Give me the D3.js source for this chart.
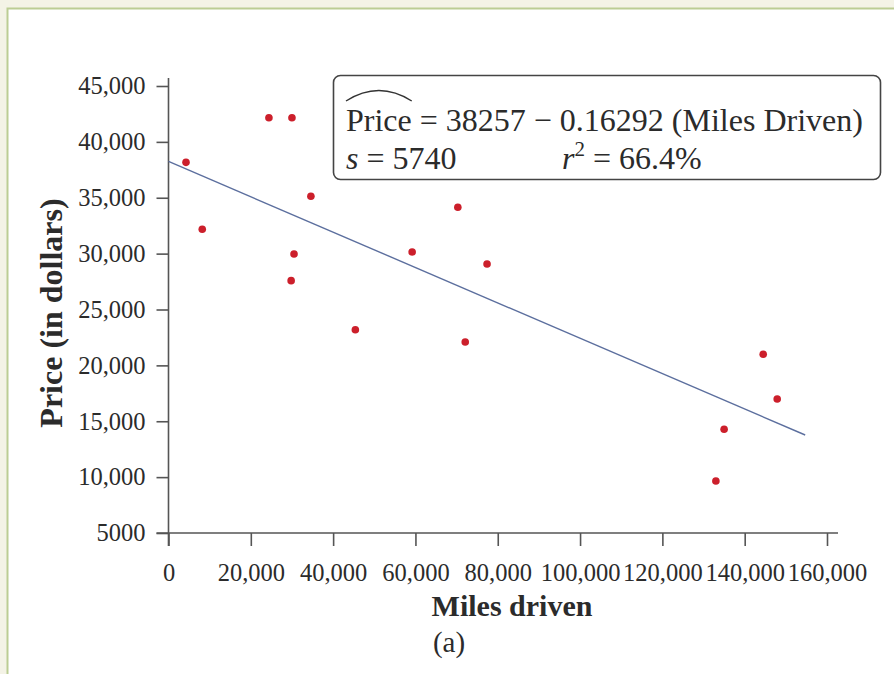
<!DOCTYPE html>
<html>
<head>
<meta charset="utf-8">
<script src="https://cdn.jsdelivr.net/npm/d3@7"></script>
<style>
  body { margin: 0; background: #f4f3e6; }
  svg { display: block; }
  text { font-family: "Liberation Serif", "Times New Roman", serif; fill: #2b2b2b; }
</style>
</head>
<body>
<svg class="chart"></svg>
<script>
// Data
var milesDriven = [4250, 8200, 24400, 30000, 34600, 30500, 29800, 45400, 59200, 70300, 77400, 72100, 133000, 135000, 144500, 147900];
var price = [38170, 32180, 42160, 42160, 35130, 29970, 27580, 23190, 30150, 34150, 29070, 22090, 9650, 14280, 20990, 16990];

// fitted line as drawn (start and end)
var fitMiles = [0, 154700];
var fitPrice = [38250, 13770];

var xTicks = [0, 20000, 40000, 60000, 80000, 100000, 120000, 140000, 160000];
var xTickLabels = ['0', '20,000', '40,000', '60,000', '80,000', '100,000', '120,000', '140,000', '160,000'];
var yTicks = [5000, 10000, 15000, 20000, 25000, 30000, 35000, 40000, 45000];
var yTickLabels = ['5000', '10,000', '15,000', '20,000', '25,000', '30,000', '35,000', '40,000', '45,000'];

var width = 894,
    height = 674;

var svg = d3.select('.chart').attr('width', width).attr('height', height);

// panel with the green frame
svg.append('rect')
    .attr('x', 7.5)
    .attr('y', 8.5)
    .attr('width', 1000)
    .attr('height', 1000)
    .attr('fill', '#ffffff')
    .attr('stroke', '#bccd94')
    .attr('stroke-width', 2);

// scales
var x = d3.scaleLinear().domain([0, 160000]).range([168.5, 827]);
var y = d3.scaleLinear().domain([5000, 45000]).range([533, 86]);

// axis lines (they run a bit past the ticks)
svg.append('line')
    .attr('x1', x(0) - 12).attr('x2', x(160000) + 11)
    .attr('y1', y(5000)).attr('y2', y(5000))
    .attr('stroke', '#555').attr('stroke-width', 1.6);
svg.append('line')
    .attr('x1', x(0)).attr('x2', x(0))
    .attr('y1', y(45000) - 8).attr('y2', y(5000) + 13)
    .attr('stroke', '#555').attr('stroke-width', 1.6);

var xAxis = d3.axisBottom(x)
    .tickValues(xTicks)
    .tickFormat(function (d, i) { return xTickLabels[i]; })
    .tickSize(13)
    .tickPadding(18);

var yAxis = d3.axisLeft(y)
    .tickValues(yTicks)
    .tickFormat(function (d, i) { return yTickLabels[i]; })
    .tickSize(12)
    .tickPadding(11);

var gx = svg.append('g').attr('transform', 'translate(0,' + y(5000) + ')').call(xAxis);
var gy = svg.append('g').attr('transform', 'translate(' + x(0) + ',0)').call(yAxis);

[gx, gy].forEach(function (g) {
    g.select('.domain').remove();
    g.selectAll('line').attr('stroke', '#555').attr('stroke-width', 1.6);
    g.selectAll('text')
        .attr('font-family', '"Liberation Serif", "Times New Roman", serif')
        .attr('font-size', 24.5)
        .attr('fill', '#333');
});
gx.selectAll('.tick line').attr('y1', 0);

// regression line
var line = d3.line()
    .x(function (d) { return x(d[0]); })
    .y(function (d) { return y(d[1]); });

svg.append('path')
    .datum(d3.zip(fitMiles, fitPrice))
    .attr('d', line)
    .attr('fill', 'none')
    .attr('stroke', '#5c6f9e')
    .attr('stroke-width', 1.4);

// points
svg.selectAll('.dot')
    .data(d3.zip(milesDriven, price))
    .enter()
    .append('circle')
    .attr('class', 'dot')
    .attr('cx', function (d) { return x(d[0]); })
    .attr('cy', function (d) { return y(d[1]); })
    .attr('r', 3.8)
    .attr('fill', '#cc1f2b');

// axis titles
svg.append('text')
    .attr('x', 512)
    .attr('y', 616)
    .attr('text-anchor', 'middle')
    .attr('font-size', 30)
    .attr('font-weight', 'bold')
    .text('Miles driven');

svg.append('text')
    .attr('transform', 'translate(62,313) rotate(-90)')
    .attr('text-anchor', 'middle')
    .attr('font-size', 32)
    .attr('font-weight', 'bold')
    .text('Price (in dollars)');

svg.append('text')
    .attr('x', 449)
    .attr('y', 652)
    .attr('text-anchor', 'middle')
    .attr('font-size', 29)
    .text('(a)');

// regression output box
svg.append('rect')
    .attr('x', 333.5)
    .attr('y', 75.5)
    .attr('width', 547)
    .attr('height', 104)
    .attr('rx', 7)
    .attr('fill', '#fff')
    .attr('stroke', '#444')
    .attr('stroke-width', 1.6);

var eq = svg.append('text')
    .attr('x', 346)
    .attr('y', 131)
    .attr('font-size', 32);
var hatWord = eq.append('tspan').text('Price');
eq.append('tspan').text(' = 38257 \u2212 0.16292 (Miles Driven)');

// hat over "Price"
var hw = hatWord.node().getComputedTextLength();
svg.append('path')
    .attr('d', 'M346,101 Q' + (346 + hw / 2) + ',80 ' + (346 + hw) + ',101')
    .attr('fill', 'none')
    .attr('stroke', '#333')
    .attr('stroke-width', 1.4);

var row2 = svg.append('text')
    .attr('x', 346)
    .attr('y', 169)
    .attr('font-size', 32);
row2.append('tspan').attr('font-style', 'italic').text('s');
row2.append('tspan').text(' = 5740');

var row2b = svg.append('text')
    .attr('x', 562)
    .attr('y', 169)
    .attr('font-size', 32);
row2b.append('tspan').attr('font-style', 'italic').text('r');
row2b.append('tspan').attr('font-size', 21).attr('dy', -13).text('2');
row2b.append('tspan').attr('dy', 13).text(' = 66.4%');
</script>
</body>
</html>
